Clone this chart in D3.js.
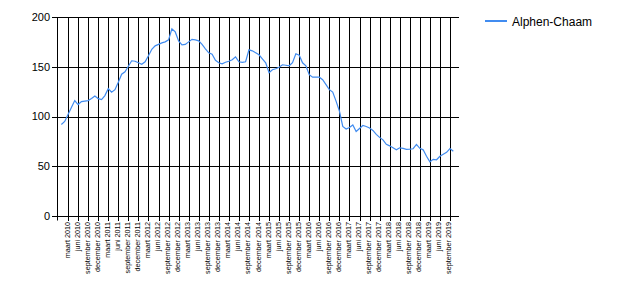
<!DOCTYPE html>
<html>
<head>
<meta charset="utf-8">
<script src="https://cdn.jsdelivr.net/npm/d3@7"></script>
<style>
  html, body { margin: 0; padding: 0; background: #fff; }
  svg { display: block; }
  text { font-family: "Liberation Sans", Arial, sans-serif; fill: #000; }
</style>
</head>
<body>
<svg id="chart" width="620" height="300"></svg>
<script>
// ---- data ----
const seriesName = "Alphen-Chaam";
const startYear = 2010; // first value = januari 2010, monthly
const values = [
  92, 95, 102, 109, 116, 112, 115, 115.5, 116, 118, 120.5, 118,
  117, 121, 128, 124.5, 127, 134.5, 142.5, 145, 150.5, 156, 155.5, 154,
  152.5, 155, 161, 167.5, 171, 172.5, 174, 175, 177, 188, 185, 176,
  172, 172.5, 175, 177.5, 177, 176, 172.5, 168, 164, 162.5, 156.5, 154,
  153, 154.5, 155.5, 157, 160, 155, 154.5, 155, 167, 166, 164, 162,
  158, 154, 144, 147, 148, 149.5, 152, 151.5, 151, 154, 163, 161.5,
  154, 151, 142, 139.5, 139.5, 139.5, 137, 132, 127, 124.5, 115.5, 105.5,
  90, 87.5, 89, 91.5, 85, 88, 91, 90, 88.5, 86, 82, 79,
  76.5, 72, 70.5, 68.5, 66.5, 68.5, 68, 67, 67.2, 67.6, 72, 68,
  66.5, 60, 54.5, 57, 56.5, 60, 62, 64, 67.8, 65
];
const monthNames = ["januari","februari","maart","april","mei","juni","juli","augustus","september","oktober","november","december"];
const tickMonths = d3.range(2, 117, 3); // maart 2010 ... september 2019
const yTicks = [0, 50, 100, 150, 200];

(function () {
  // ---- layout ----
  const svg = d3.select("#chart");
  const pLeft = 57, pRight = 459, pTop = 17, pBottom = 216;

  const x = d3.scaleLinear().domain([-1.3, 118.7]).range([pLeft, pRight]);
  const y = d3.scaleLinear().domain([0, 200]).range([pBottom, pTop]);

  const crisp = v => Math.round(v) + 0.5;

  // horizontal gridlines
  svg.append("g").selectAll("line").data(yTicks).join("line")
    .attr("x1", pLeft - 5).attr("x2", pRight)
    .attr("y1", d => crisp(y(d))).attr("y2", d => crisp(y(d)))
    .attr("stroke", "#000").attr("stroke-width", 1);

  // vertical gridlines + ticks
  svg.append("g").selectAll("line").data(tickMonths).join("line")
    .attr("x1", d => crisp(x(d))).attr("x2", d => crisp(x(d)))
    .attr("y1", pTop).attr("y2", pBottom + 5)
    .attr("stroke", "#000").attr("stroke-width", 1);

  // y axis line
  svg.append("line")
    .attr("x1", crisp(pLeft)).attr("x2", crisp(pLeft))
    .attr("y1", pTop).attr("y2", crisp(pBottom) + 4)
    .attr("stroke", "#000").attr("stroke-width", 1);

  // y labels
  svg.append("g").selectAll("text").data(yTicks).join("text")
    .attr("x", 50).attr("y", d => y(d))
    .attr("dy", "0.36em")
    .attr("text-anchor", "end")
    .attr("font-size", "11px")
    .text(d => d);

  // x labels
  svg.append("g").selectAll("text").data(tickMonths).join("text")
    .attr("transform", d => `translate(${x(d) + 1.5},222) rotate(-90)`)
    .attr("text-anchor", "end")
    .attr("font-size", "7.2px")
    .text(d => monthNames[d % 12] + " " + (startYear + Math.floor(d / 12)));

  // data line
  const line = d3.line()
    .x((d, i) => x(i))
    .y(d => y(d));
  svg.append("path")
    .datum(values)
    .attr("d", line)
    .attr("fill", "none")
    .attr("stroke", "#418CF0")
    .attr("stroke-width", 1.2);

  // legend
  svg.append("line")
    .attr("x1", 485).attr("x2", 507).attr("y1", 21).attr("y2", 21)
    .attr("stroke", "#418CF0").attr("stroke-width", 2);
  svg.append("text")
    .attr("x", 512).attr("y", 25.5)
    .attr("font-size", "12px")
    .text(seriesName);
})();
</script>
</body>
</html>
